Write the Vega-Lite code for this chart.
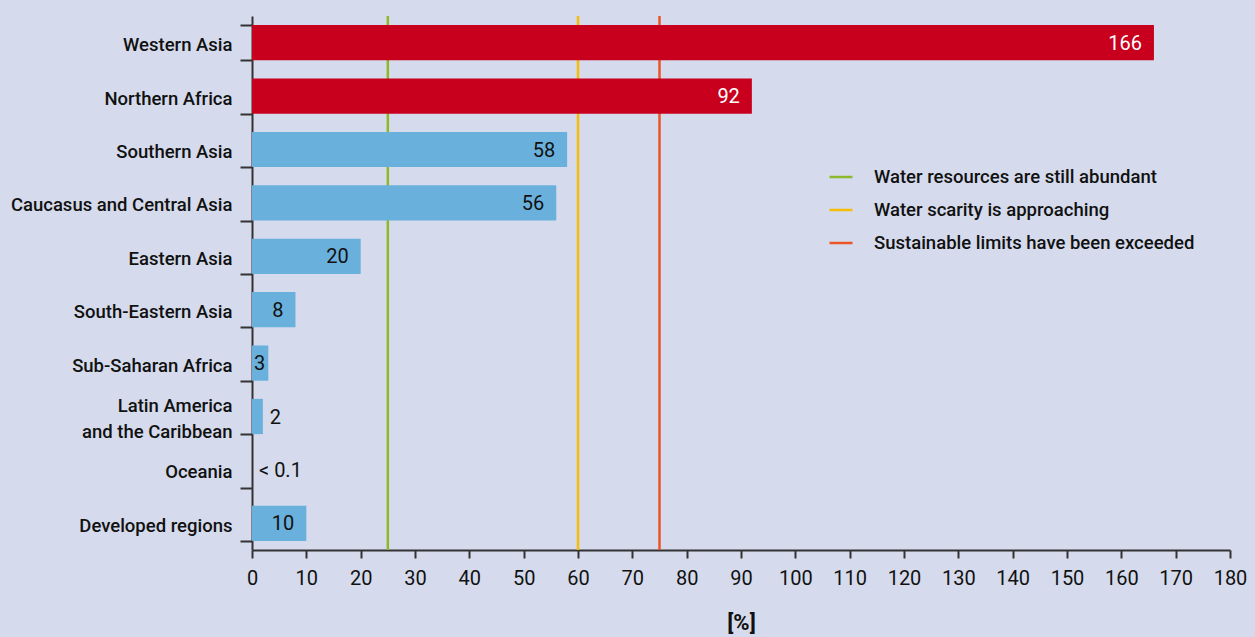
{
  "$schema": "https://vega.github.io/schema/vega-lite/v6.json",
  "width": 978,
  "height": 534,
  "autosize": {"type": "none"},
  "padding": {"left": 252, "top": 16, "right": 25, "bottom": 87},
  "background": "#d5dbec",
  "config": {"view": {"stroke": null}, "font": "Roboto"},
  "datasets": {
    "regions": [
      {"region": "Western Asia", "value": 166, "label": "166", "group": "high"},
      {"region": "Northern Africa", "value": 92, "label": "92", "group": "high"},
      {"region": "Southern Asia", "value": 58, "label": "58", "group": "low"},
      {"region": "Caucasus and Central Asia", "value": 56, "label": "56", "group": "low"},
      {"region": "Eastern Asia", "value": 20, "label": "20", "group": "low"},
      {"region": "South-Eastern Asia", "value": 8, "label": "8", "group": "low"},
      {"region": "Sub-Saharan Africa", "value": 3, "label": "3", "group": "low"},
      {"region": "Latin America and the Caribbean", "value": 2, "label": "2", "group": "low"},
      {"region": "Oceania", "value": 0, "label": "< 0.1", "group": "low"},
      {"region": "Developed regions", "value": 10, "label": "10", "group": "low"}
    ],
    "thresholds": [
      {"name": "Water resources are still abundant", "value": 25},
      {"name": "Water scarity is approaching", "value": 60},
      {"name": "Sustainable limits have been exceeded", "value": 75}
    ]
  },
  "layer": [
    {
      "data": {"name": "thresholds"},
      "mark": {"type": "rule", "strokeWidth": 2.5},
      "encoding": {
        "x": {"field": "value", "type": "quantitative", "scale": {"domain": [0, 180]}},
        "color": {
          "field": "name",
          "type": "nominal",
          "scale": {
            "domain": ["Water resources are still abundant", "Water scarity is approaching", "Sustainable limits have been exceeded"],
            "range": ["#8cb92a", "#f5bd0a", "#eb5526"]
          },
          "legend": {
            "title": null,
            "orient": "none",
            "legendX": 576,
            "legendY": 148,
            "symbolType": "stroke",
            "symbolSize": 529,
            "symbolStrokeWidth": 2.5,
            "labelFont": "Roboto",
            "labelFontSize": 18.5,
            "labelFontWeight": 500,
            "labelColor": "#111111",
            "labelOffset": 20,
            "rowPadding": 10,
            "labelLimit": 400
          }
        }
      }
    },
    {
      "data": {"name": "regions"},
      "mark": {"type": "bar"},
      "encoding": {
        "y": {
          "field": "region",
          "type": "nominal",
          "sort": null,
          "scale": {"paddingInner": 0.34, "paddingOuter": 0.17},
          "axis": {
            "title": null,
            "domainColor": "#333333",
            "domainWidth": 2,
            "tickColor": "#333333",
            "tickWidth": 2,
            "tickSize": 12,
            "tickBand": "extent",
            "labelFont": "Roboto",
            "labelFontSize": 18.5,
            "labelFontWeight": 500,
            "labelColor": "#111111",
            "labelPadding": 8,
            "labelLineHeight": 26,
            "labelLimit": 300,
            "labelExpr": "datum.label == 'Latin America and the Caribbean' ? ['Latin America', 'and the Caribbean'] : datum.label",
            "labelOffset": {"condition": {"test": "datum.value == 'Latin America and the Caribbean'", "value": -11}, "value": 2}
          }
        },
        "x": {
          "field": "value",
          "type": "quantitative",
          "scale": {"domain": [0, 180]},
          "axis": {
            "title": "[%]",
            "titleFont": "Roboto",
            "titleFontSize": 22,
            "titleFontWeight": "bold",
            "titleColor": "#111111",
            "titlePadding": 24,
            "values": [0, 10, 20, 30, 40, 50, 60, 70, 80, 90, 100, 110, 120, 130, 140, 150, 160, 170, 180],
            "grid": false,
            "domainColor": "#333333",
            "domainWidth": 2,
            "tickColor": "#333333",
            "tickWidth": 2,
            "tickSize": 8,
            "labelFlush": false,
            "labelOverlap": false,
            "labelFont": "Roboto",
            "labelFontSize": 20,
            "labelColor": "#111111",
            "labelPadding": 10
          }
        },
        "color": {
          "field": "group",
          "type": "nominal",
          "scale": {"domain": ["high", "low"], "range": ["#c8001e", "#6ab0dc"]},
          "legend": null
        }
      }
    },
    {
      "data": {"name": "regions"},
      "transform": [{"filter": "datum.value >= 5"}],
      "mark": {"type": "text", "align": "right", "baseline": "middle", "dx": -12, "dy": 1, "fontSize": 20, "font": "Roboto"},
      "encoding": {
        "y": {"field": "region", "type": "nominal", "sort": null},
        "x": {"field": "value", "type": "quantitative"},
        "text": {"field": "label"},
        "color": {"condition": {"test": "datum.group == 'high'", "value": "#ffffff"}, "value": "#111111"}
      }
    },
    {
      "data": {"name": "regions"},
      "transform": [{"filter": "datum.value >= 3 && datum.value < 5"}],
      "mark": {"type": "text", "align": "right", "baseline": "middle", "dx": -3, "dy": 1, "fontSize": 20, "font": "Roboto", "color": "#111111"},
      "encoding": {
        "y": {"field": "region", "type": "nominal", "sort": null},
        "x": {"field": "value", "type": "quantitative"},
        "text": {"field": "label"}
      }
    },
    {
      "data": {"name": "regions"},
      "transform": [{"filter": "datum.value < 3"}],
      "mark": {"type": "text", "align": "left", "baseline": "middle", "dx": 7, "dy": 1, "fontSize": 20, "font": "Roboto", "color": "#111111"},
      "encoding": {
        "y": {"field": "region", "type": "nominal", "sort": null},
        "x": {"field": "value", "type": "quantitative"},
        "text": {"field": "label"}
      }
    }
  ],
  "resolve": {"scale": {"color": "independent"}, "legend": {"color": "independent"}}
}
